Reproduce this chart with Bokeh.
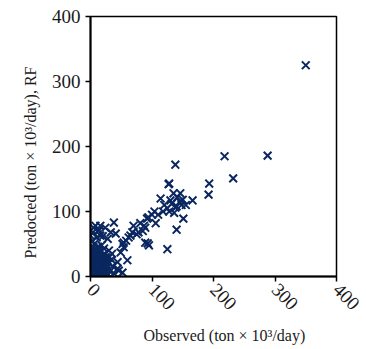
import math
from bokeh.plotting import figure
from bokeh.models import Range1d, FixedTicker, Title
from bokeh.embed import file_html
from bokeh.resources import INLINE

# Observed vs predicted (ton x 10^3/day), RF model
observed = [
    350, 288, 218, 232, 193, 192, 166, 138, 128, 135, 146, 127, 114, 130, 141, 138, 151, 140, 125,
    120, 125, 132, 145, 148, 136, 128, 118, 140, 150, 155,
    106, 94, 92, 81, 87, 89, 78, 70, 68, 65, 93, 89, 95, 54, 54, 52, 41, 33, 38, 49, 44, 27, 22,
    60, 46, 52, 44, 100, 85, 75, 62, 58, 104, 110,
    0, 5, 8, 13, 16, 14, 24, 16, 3, 2, 4, 10, 20, 6, 28, 30, 35, 18, 12, 25,
    0, 1, 2, 3, 4, 5, 6, 7, 8, 9, 10, 11, 12, 13, 14, 15, 16, 17, 18, 19, 20, 21, 22, 23, 24, 25,
    0, 1, 2, 3, 4, 0, 2, 1, 3, 5, 6, 7, 8, 9, 10, 11, 12, 13, 14, 15, 16, 17, 18, 19, 20, 21, 22,
    23, 24, 26, 28, 30, 32, 34, 36, 38, 29, 31, 5, 10, 15, 0, 2, 7, 11, 4, 6, 8, 12, 3, 9, 14, 18,
    20, 1, 5, 8, 12, 16,
]
predicted = [
    325, 186, 185, 151, 143, 126, 117, 172, 143, 128, 128, 142, 120, 117, 122, 106, 89, 72, 42,
    110, 105, 112, 115, 110, 98, 100, 100, 108, 118, 110,
    82, 91, 89, 82, 78, 75, 68, 78, 68, 63, 51, 52, 48, 52, 45, 50, 66, 68, 83, 37, 22, 28, 43,
    25, 9, 6, 12, 95, 70, 65, 60, 55, 100, 95,
    63, 75, 78, 71, 78, 71, 75, 63, 55, 45, 68, 60, 62, 50, 58, 40, 35, 48, 40, 30,
    0, 2, 5, 1, 8, 3, 12, 6, 2, 15, 9, 4, 18, 11, 7, 22, 14, 3, 25, 10, 17, 6, 20, 13, 28, 9,
    10, 15, 20, 25, 30, 35, 38, 28, 12, 18, 22, 27, 32, 5, 25, 30, 2, 24, 35, 8, 28, 19, 12, 32, 4,
    26, 11, 35, 16, 22, 14, 20, 8, 26, 16, 5, 3, 30, 0, 1, 0, 5, 9, 14, 20, 3, 7, 10, 14, 16, 21,
    16, 20, 9, 42, 45, 38, 46, 40,
]
ticks = [0, 100, 200, 300, 400]
x_title = "Observed (ton × 10³/day)"
y_title = "Predocted (ton × 10³/day), RF"

font = "Liberation Serif"
navy = "#0a275f"
ink = "#1a1a1a"

p = figure(width=366, height=349, output_backend="svg", toolbar_location=None,
           x_range=Range1d(0, 400), y_range=Range1d(0, 400),
           min_border_left=90, min_border_right=30, min_border_top=16, min_border_bottom=73)

p.scatter(observed, predicted, marker="x", size=11, line_color=navy, line_width=2)

p.xgrid.visible = False
p.ygrid.visible = False
p.outline_line_color = "black"
p.outline_line_width = 1.5
p.background_fill_color = "white"
p.border_fill_color = "white"

for ax in (p.xaxis[0], p.yaxis[0]):
    ax.ticker = FixedTicker(ticks=ticks)
    ax.axis_line_width = 2
    ax.axis_line_color = "black"
    ax.major_tick_in = 0
    ax.major_tick_out = 5
    ax.major_tick_line_width = 1.5
    ax.minor_tick_line_color = None
    ax.major_label_text_font = font
    ax.major_label_text_font_size = "19px"
    ax.major_label_text_color = ink

p.xaxis.major_label_orientation = -math.pi / 4

# axis titles, offset along the axis as in the reference
p.add_layout(Title(text=x_title, align="left", offset=53, text_font=font,
                   text_font_size="16px", text_font_style="normal", text_color=ink,
                   standoff=12), "below")
p.add_layout(Title(text=y_title, align="left", offset=18, text_font=font,
                   text_font_size="16px", text_font_style="normal", text_color=ink,
                   standoff=20), "left")

open("out.html", "w").write(file_html(p, INLINE))
